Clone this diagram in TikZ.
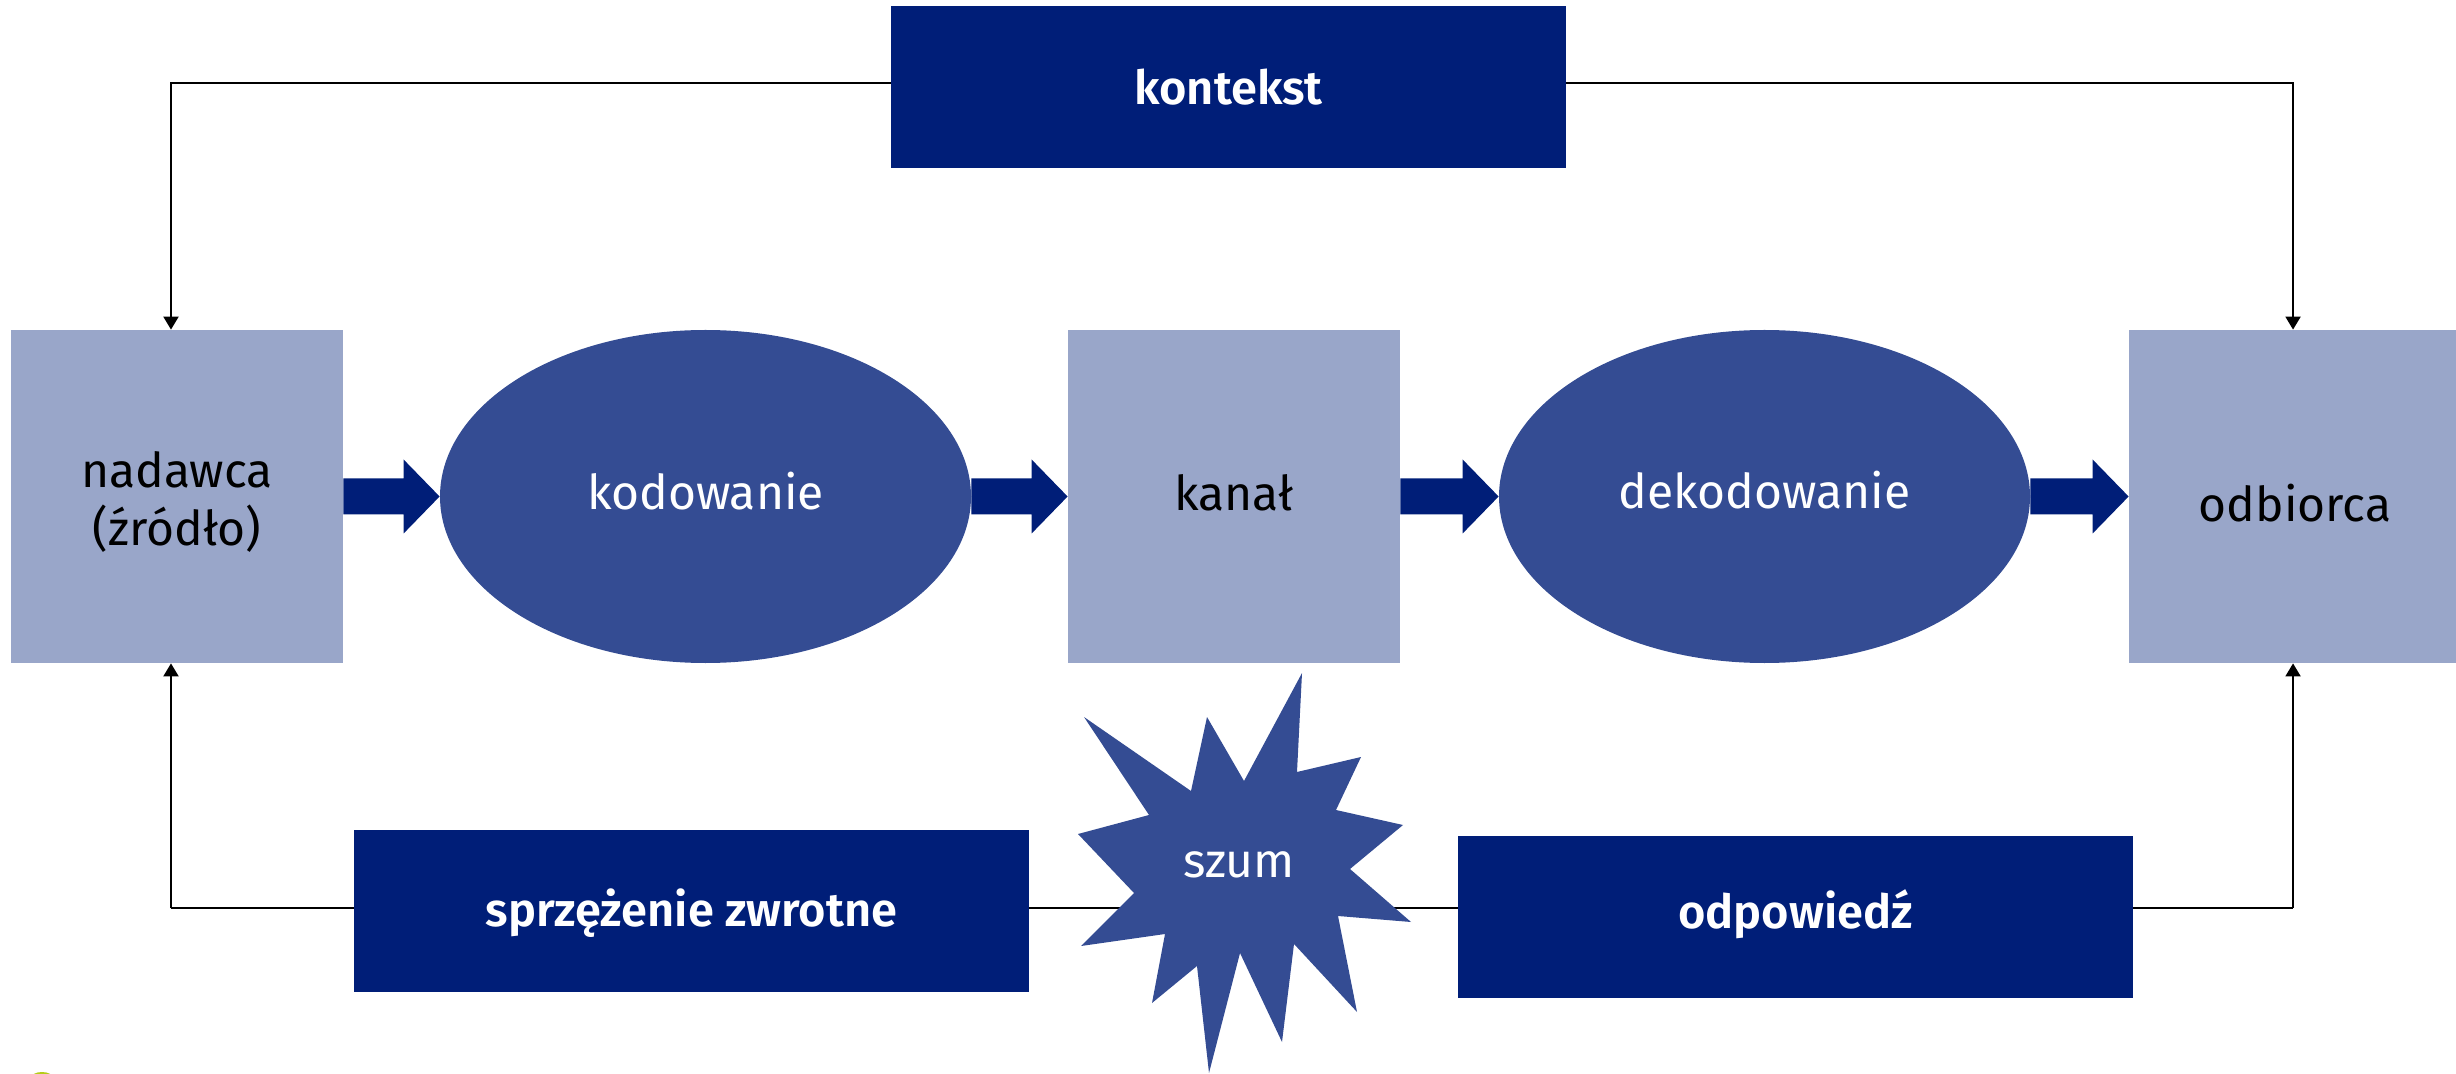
\documentclass[tikz,border=0pt]{standalone}
\usepackage{fontspec}
\setmainfont{Fira Sans}[BoldFont={Fira Sans SemiBold}]
\usetikzlibrary{shapes.geometric,arrows.meta,calc}
\definecolor{navy}{HTML}{001E78}
\definecolor{midblue}{HTML}{344C93}
\definecolor{lightblue}{HTML}{99A6C9}
\definecolor{limegreen}{HTML}{B5CC18}
\newcommand\blockarr[2]{%
  \fill[navy] ($(#1.east)+(0,-18)$) -- ($(#2.west)+(-36,-18)$) -- ($(#2.west)+(-36,-37)$)
    -- (#2.west) -- ($(#2.west)+(-36,37)$) -- ($(#2.west)+(-36,18)$) -- ($(#1.east)+(0,18)$) -- cycle;}
\begin{document}
\begin{tikzpicture}[x=0.5pt,y=-0.5pt,
  lightbox/.style={fill=lightblue, minimum width=166pt, minimum height=166.5pt, inner sep=0pt,
    align=center, text=black, font=\fontsize{24}{29}\selectfont},
  ovalnode/.style={ellipse, fill=midblue, minimum width=265.5pt, minimum height=166.5pt, inner sep=0pt,
    text=white, font=\fontsize{24}{28}\selectfont},
  darkbox/.style={fill=navy, minimum width=337.5pt, minimum height=81pt, inner sep=0pt,
    text=white, font=\bfseries\fontsize{23.5}{28}\selectfont},
  link/.style={draw=black, line width=1pt, -{Triangle[length=6.5pt,width=7.5pt]}},
  plainlink/.style={draw=black, line width=1pt}]
\useasboundingbox (0,0) rectangle (2456,1074);
\fill[limegreen] (42,1078) ellipse [x radius=11, y radius=6];
% nodes
\node[darkbox] (kon) at (1228.5,87) {kontekst};
\node[lightbox] (nad) at (177,496.5) {};
\node[align=center, font=\fontsize{24}{29}\selectfont] (nadtxt) at (177,502) {nadawca\\ (źródło)};
\node[ovalnode] (kod) at (705.5,496.5) {};
\node[text=white, font=\fontsize{24}{28}\selectfont] (kodtxt) at (705.5,491) {kodowanie};
\node[lightbox] (kan) at (1234,496.5) {};
\node[font=\fontsize{24}{28}\selectfont] (kantxt) at (1234,493) {kanał};
\node[ovalnode] (dek) at (1764.5,496.5) {};
\node[text=white, font=\fontsize{24}{28}\selectfont] (dektxt) at (1764.5,490) {dekodowanie};
\node[lightbox] (odb) at (2295,496.5) {};
\node[font=\fontsize{24}{28}\selectfont] (odbtxt) at (2295,503) {odbiorca};
\coordinate (nadtop) at ($(nad.north)+(-6,0)$);
\coordinate (nadbot) at ($(nad.south)+(-6,0)$);
\coordinate (odbtop) at ($(odb.north)+(-2,0)$);
\coordinate (odbbot) at ($(odb.south)+(-2,0)$);
\coordinate (ytop) at (0,83);
\coordinate (ybot) at (0,908);
% connectors
\draw[link] (kon.west |- ytop) -| (nadtop);
\draw[link] (kon.east |- ytop) -| (odbtop);
\draw[link] (nadbot |- ybot) -- (nadbot);
\draw[link] (odbbot |- ybot) -- (odbbot);
\draw[plainlink] (nadbot |- ybot) -- (odbbot |- ybot);
\node[darkbox] (spr) at (691.5,910.5) {};
\node[text=white, font=\bfseries\fontsize{23.5}{28}\selectfont] (sprtxt) at (691.5,913) {sprzężenie zwrotne};
\node[darkbox] (odp) at (1795.5,916.5) {};
\node[text=white, font=\bfseries\fontsize{23.5}{28}\selectfont] (odptxt) at (1795.5,914) {odpowiedź};
% block arrows
\blockarr{nad}{kod}
\blockarr{kod}{kan}
\blockarr{kan}{dek}
\blockarr{dek}{odb}
% noise starburst
\fill[midblue] (1302,673) -- (1297,772) -- (1361,757) -- (1336,810) -- (1403,825) -- (1350,869)
  -- (1411,922) -- (1338,916) -- (1357,1012) -- (1294,944) -- (1282,1042) -- (1240,953)
  -- (1209,1073) -- (1197,966) -- (1152,1003) -- (1165,934) -- (1081,946) -- (1134,893)
  -- (1078,834) -- (1149,815) -- (1084,717) -- (1191,791) -- (1207,717) -- (1244,781) -- cycle;
\node[text=white, font=\fontsize{24}{28}\selectfont] (szum) at (1239,865) {szum};
\end{tikzpicture}
\end{document}
